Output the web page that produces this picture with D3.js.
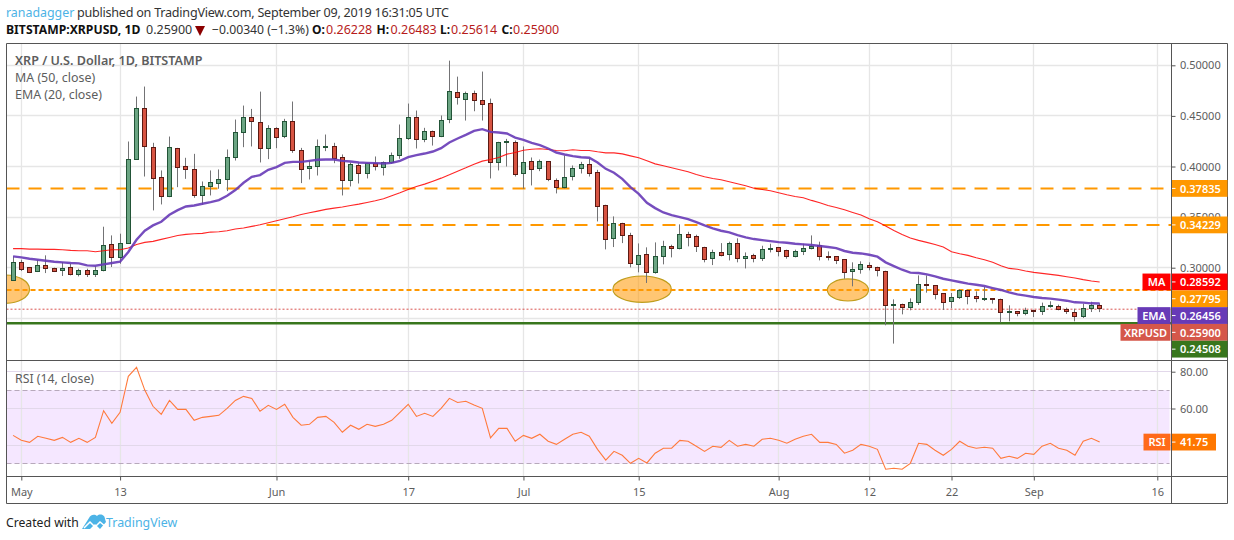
<!DOCTYPE html>
<html>
<head>
<meta charset="utf-8">
<title>XRPUSD</title>
<script src="https://cdn.jsdelivr.net/npm/d3@7"></script>
<style>
  html, body { margin: 0; padding: 0; background: #fff; }
  svg { display: block; font-family: "Noto Sans", sans-serif; }
</style>
</head>
<body>
<div id="chart"></div>
<script>
const firstDay = new Date(Date.UTC(2019, 3, 30));

const opens = [
  .2872,.3049,.3000,.2961,.3020,.2990,.2970,.3000,.2931,.2970,.2931,.2970,
  .3227,.3099,.3237,.4066,.4569,.4184,.3888,.3697,.4175,.3997,.3967,.3707,
  .3799,.3829,.3869,.4086,.4332,.4481,.4431,.4175,.4372,.4293,.4441,.4155,
  .3977,.3997,.4194,.4194,.4086,.3859,.4007,.3928,.4026,.3987,.4036,.4105,
  .4273,.4481,.4263,.4342,.4293,.4461,.4727,.4658,.4717,.4648,.4619,.4036,
  .4234,.4234,.3928,.4046,.3977,.4046,.3859,.3790,.3898,.3977,.4017,.3938,
  .3612,.3286,.3434,.3316,.3030,.3128,.2951,.3109,.3207,.3188,.3326,.3306,
  .3197,.3089,.3148,.3128,.3237,.3089,.3118,.3089,.3178,.3197,.3168,.3109,
  .3158,.3188,.3217,.3109,.3109,.3079,.2961,.2980,.3020,.3000,.2961,.2622,
  .2635,.2602,.2655,.2832,.2822,.2743,.2661,.2701,.2773,.2714,.2687,.2694,
  .2684,.2556,.2566,.2543,.2576,.2566,.2612,.2615,.2585,.2556,.2513,.2592,
  .26228
];
const highs = [
  .3112,.3079,.3007,.3079,.3122,.3000,.3056,.3039,.2990,.2990,.3013,.3405,
  .3319,.3336,.4247,.4691,.4790,.4234,.3961,.4296,.4184,.4086,.4125,.3852,
  .3961,.3971,.4168,.4464,.4602,.4569,.4740,.4408,.4388,.4471,.4642,.4184,
  .4059,.4267,.4316,.4234,.4119,.4040,.4036,.4036,.4099,.4050,.4138,.4415,
  .4622,.4553,.4382,.4355,.4504,.5046,.4888,.4740,.4750,.4938,.4671,.4244,
  .4273,.4257,.4198,.4089,.4069,.4050,.3882,.4109,.4010,.4046,.4076,.3967,
  .3622,.3507,.3444,.3345,.3240,.3201,.3250,.3266,.3227,.3428,.3355,.3326,
  .3207,.3178,.3243,.3257,.3290,.3151,.3138,.3217,.3237,.3204,.3178,.3178,
  .3237,.3319,.3257,.3161,.3112,.3082,.3053,.3063,.3053,.3010,.2970,.2687,
  .2645,.2697,.2924,.2924,.2822,.2750,.2750,.2786,.2783,.2766,.2809,.2694,
  .2694,.2628,.2572,.2605,.2585,.2655,.2668,.2635,.2605,.2595,.2645,.2664,
  .26483
];
const lows = [
  .2872,.2967,.2947,.2957,.2947,.2957,.2918,.2924,.2914,.2908,.2908,.2964,
  .3007,.3039,.3237,.4066,.3901,.3566,.3625,.3697,.3796,.3878,.3691,.3622,
  .3714,.3780,.3757,.4059,.4191,.4198,.4040,.4073,.4181,.4280,.4135,.3836,
  .3872,.3911,.4152,.4033,.3714,.3803,.3832,.3882,.3961,.3911,.4026,.4076,
  .4263,.4178,.4240,.4207,.4290,.4428,.4612,.4454,.4546,.4454,.3882,.3961,
  .4000,.3901,.3780,.3813,.3954,.3855,.3734,.3783,.3862,.3931,.3901,.3457,
  .3181,.3204,.3243,.3003,.2954,.2849,.2941,.3033,.3102,.3181,.3211,.3155,
  .3053,.3026,.3112,.3072,.3053,.2993,.3053,.3066,.3151,.3112,.3089,.3102,
  .3125,.3181,.3072,.3072,.3036,.2891,.2816,.2941,.2974,.2914,.2431,.2250,
  .2539,.2579,.2632,.2753,.2687,.2582,.2599,.2691,.2638,.2658,.2671,.2645,
  .2460,.2470,.2520,.2530,.2513,.2533,.2605,.2579,.2543,.2470,.2503,.2562,
  .25614
];
const closes = [
  .3049,.2977,.2951,.3020,.2990,.2961,.2990,.2931,.2970,.2931,.2970,.3217,
  .3099,.3237,.4066,.4569,.4191,.3878,.3697,.4184,.3987,.3967,.3707,.3799,
  .3839,.3869,.4086,.4332,.4481,.4441,.4175,.4372,.4283,.4441,.4155,.3967,
  .3997,.4194,.4197,.4076,.3859,.4017,.3928,.4026,.3997,.4036,.4105,.4273,
  .4481,.4263,.4342,.4293,.4451,.4737,.4678,.4717,.4648,.4609,.4036,.4234,
  .4244,.3915,.4036,.3967,.4046,.3869,.3790,.3888,.3977,.4017,.3928,.3602,
  .3276,.3434,.3316,.3039,.3118,.2951,.3109,.3207,.3188,.3326,.3296,.3207,
  .3079,.3148,.3118,.3237,.3089,.3109,.3089,.3178,.3188,.3158,.3109,.3158,
  .3188,.3207,.3109,.3099,.3069,.2951,.2980,.3030,.3000,.2970,.2622,.2635,
  .2602,.2655,.2832,.2819,.2734,.2655,.2704,.2773,.2714,.2694,.2694,.2687,
  .2556,.2566,.2543,.2576,.2562,.2612,.2625,.2582,.2566,.2516,.2595,.2625,
  .25900
];
const ma50 = [
  .3188,.3188,.3184,.3184,.3181,.3181,.3178,.3171,.3168,.3168,.3158,.3168,
  .3178,.3178,.3194,.3230,.3250,.3260,.3280,.3299,.3319,.3329,.3336,.3339,
  .3352,.3355,.3365,.3382,.3392,.3408,.3424,.3444,.3464,.3484,.3503,.3526,
  .3543,.3559,.3576,.3589,.3599,.3615,.3628,.3645,.3661,.3681,.3711,.3740,
  .3773,.3803,.3826,.3855,.3885,.3918,.3954,.3987,.4023,.4053,.4069,.4089,
  .4122,.4138,.4161,.4171,.4175,.4168,.4158,.4155,.4165,.4158,.4158,.4145,
  .4135,.4135,.4125,.4105,.4086,.4056,.4026,.4007,.3987,.3967,.3948,.3921,
  .3898,.3882,.3869,.3849,.3829,.3809,.3786,.3773,.3760,.3740,.3721,.3704,
  .3691,.3665,.3642,.3615,.3595,.3572,.3546,.3520,.3484,.3454,.3411,.3368,
  .3329,.3293,.3270,.3250,.3230,.3204,.3158,.3138,.3122,.3099,.3079,.3053,
  .3020,.2993,.2984,.2967,.2954,.2944,.2934,.2924,.2911,.2898,.2882,.2868,
  .28592
];
const ema20 = [
  .3112,.3102,.3089,.3079,.3069,.3059,.3053,.3046,.3043,.3023,.3020,.3033,
  .3046,.3059,.3155,.3276,.3365,.3418,.3454,.3523,.3569,.3605,.3615,.3632,
  .3648,.3668,.3711,.3767,.3839,.3898,.3915,.3967,.3994,.4036,.4046,.4046,
  .4056,.4066,.4069,.4069,.4056,.4050,.4040,.4036,.4033,.4030,.4036,.4056,
  .4092,.4112,.4128,.4148,.4181,.4237,.4277,.4313,.4352,.4369,.4342,.4336,
  .4326,.4286,.4263,.4234,.4211,.4178,.4138,.4119,.4102,.4092,.4086,.4040,
  .3977,.3938,.3878,.3796,.3730,.3642,.3589,.3546,.3520,.3500,.3480,.3451,
  .3418,.3388,.3365,.3349,.3322,.3299,.3283,.3273,.3263,.3253,.3247,.3237,
  .3230,.3224,.3214,.3204,.3194,.3165,.3148,.3141,.3128,.3109,.3053,.3016,
  .2980,.2951,.2947,.2934,.2914,.2891,.2875,.2859,.2842,.2832,.2819,.2799,
  .2780,.2757,.2737,.2724,.2711,.2701,.2694,.2684,.2674,.2658,.2655,.2648,
  .26456
];
const rsi14 = [
  45.4,42.7,41.6,44.9,43.8,42.7,44.3,41.6,43.8,41.6,44.3,58.8,
  51.9,57.9,77.5,82.4,70.0,61.2,56.8,64.4,59.5,59.5,53.6,55.2,
  55.7,56.3,60.1,64.4,66.6,65.5,58.5,61.7,59.5,62.3,55.2,50.9,
  51.4,55.2,55.7,52.5,47.1,50.9,48.7,51.4,50.3,51.4,53.6,57.9,
  62.3,55.7,57.4,55.7,60.1,65.5,63.3,63.9,61.9,60.1,44.0,49.2,
  49.2,42.2,45.4,43.8,46.0,42.2,40.5,43.3,46.0,47.1,44.9,37.8,
  31.9,36.7,34.6,30.2,32.9,30.4,35.7,38.4,38.4,42.7,42.2,39.5,
  36.7,39.5,38.9,42.7,39.5,40.5,39.5,43.3,43.8,42.7,41.1,43.3,
  44.9,46.0,41.6,41.6,40.5,35.7,37.3,40.5,39.5,37.8,27.0,27.5,
  27.0,30.2,41.1,40.5,37.3,34.6,37.8,42.2,39.5,38.4,38.9,38.4,
  32.9,34.0,32.9,35.7,35.1,39.5,41.1,38.4,37.3,34.6,42.2,43.8,
  41.75
];

const priceGrid = [0.25, 0.30, 0.35, 0.40, 0.45, 0.50];
const priceTicks = [0.30, 0.35, 0.40, 0.45, 0.50];
const rsiGrid = [40, 60, 80];
const rsiTicks = [60, 80];
const timeTicks = ["2019-05-01","2019-05-13","2019-06-01","2019-06-17","2019-07-01","2019-07-15","2019-08-01","2019-08-12","2019-08-22","2019-09-01","2019-09-16"];
const timeLabels = ["May","13","Jun","17","Jul","15","Aug","12","22","Sep","16"];

// horizontal levels drawn by the author
const resistanceTop = 0.37835;
const resistanceMid = 0.34229;
const resistanceMidFrom = "2019-06-01";
const supportMid = 0.27795;
const supportLow = 0.24508;
const lastPrice = 0.25900;
const lastRsi = 41.75;

// highlighted retests: middle date+hour, middle price, half width in days, half height in price
const spotDays = ["2019-04-29 00","2019-07-15 10","2019-08-09 10"];
const spotPrices = [0.2788, 0.2788, 0.2780];
const spotDayRadius = [3, 3.55, 2.5];
const spotPriceRadius = [0.014, 0.013, 0.0109];

const WIDTH = 1234, HEIGHT = 540;
const LEFT = 6.5, RIGHT = 1171.5, OUTER = 1227.5;
const TOP = 43.5, PANE_SPLIT = 360.5, RSI_BOTTOM = 476.5, BOTTOM = 503.5;
const UP = "#6ba583", DOWN = "#d75442", UP_EDGE = "#225437", DOWN_EDGE = "#5b1a13", WICK = "#737375";
const AXIS = "#555555", GRID = "#e6e6e6", ORANGE = "#ff9800", TEXT = "#5d5d5d";
const FONT = 11;

const dayMs = 86400000;
const dates = closes.map((d, i) => new Date(firstDay.getTime() + i * dayMs));
const parseDay = d3.utcParse("%Y-%m-%d");
const parseHour = d3.utcParse("%Y-%m-%d %H");

const x = d3.scaleUtc()
  .domain([parseDay("2019-05-01"), parseDay("2019-09-16")])
  .range([21.3, 1157.3]);
const y = d3.scaleLinear().domain([0.25, 0.50]).range([318.3, 65.3]);
const yRsi = d3.scaleLinear().domain([40, 80]).range([445.3, 371.7]);

const snap = v => Math.floor(v) + 0.5;

const svg = d3.select("#chart").append("svg")
  .attr("width", WIDTH).attr("height", HEIGHT)
  .attr("viewBox", [0, 0, WIDTH, HEIGHT]);

const defs = svg.append("defs");
defs.append("clipPath").attr("id", "main-clip").append("rect")
  .attr("x", LEFT).attr("y", TOP).attr("width", RIGHT - LEFT).attr("height", PANE_SPLIT - TOP);
defs.append("clipPath").attr("id", "rsi-clip").append("rect")
  .attr("x", LEFT).attr("y", PANE_SPLIT).attr("width", RIGHT - LEFT).attr("height", RSI_BOTTOM - PANE_SPLIT);

const main = svg.append("g").attr("clip-path", "url(#main-clip)");
const rsiPane = svg.append("g").attr("clip-path", "url(#rsi-clip)");

// grid
main.selectAll(".vgrid").data(timeTicks).enter().append("line")
  .attr("x1", d => snap(x(parseDay(d)))).attr("x2", d => snap(x(parseDay(d))))
  .attr("y1", TOP).attr("y2", PANE_SPLIT)
  .attr("stroke", GRID).attr("stroke-width", 1.3);
main.selectAll(".hgrid").data(priceGrid).enter().append("line")
  .attr("x1", LEFT).attr("x2", RIGHT)
  .attr("y1", d => snap(y(d))).attr("y2", d => snap(y(d)))
  .attr("stroke", GRID).attr("stroke-width", 1.3);

// retest ellipses
main.selectAll(".spot").data(spotDays).enter().append("ellipse")
  .attr("cx", d => x(parseHour(d)))
  .attr("cy", (d, i) => y(spotPrices[i]))
  .attr("rx", (d, i) => x(new Date(parseHour(d).getTime() + spotDayRadius[i] * dayMs)) - x(parseHour(d)))
  .attr("ry", (d, i) => y(spotPrices[i] - spotPriceRadius[i]) - y(spotPrices[i]))
  .attr("fill", "#ff9800").attr("fill-opacity", 0.55)
  .attr("stroke", "#b8960c").attr("stroke-opacity", 0.9).attr("stroke-width", 1.2);

// levels
function level(g, price, from, color, width, dash) {
  g.append("line")
    .attr("x1", from).attr("x2", RIGHT)
    .attr("y1", y(price)).attr("y2", y(price))
    .attr("stroke", color).attr("stroke-width", width)
    .attr("stroke-dasharray", dash);
}
level(main, resistanceTop, LEFT, ORANGE, 2, "13,9");
level(main, resistanceMid, x(parseDay(resistanceMidFrom)) - 10, ORANGE, 2, "13,9");
level(main, supportMid, LEFT, ORANGE, 2, "5,3");
level(main, lastPrice, LEFT, "#d9534f", 1, "2,2");
level(main, supportLow, LEFT, "#38761d", 2.4, null);

// candles
const candles = main.selectAll(".candle").data(dates).enter().append("g");
candles.append("line")
  .attr("x1", d => snap(x(d))).attr("x2", d => snap(x(d)))
  .attr("y1", (d, i) => y(highs[i])).attr("y2", (d, i) => y(lows[i]))
  .attr("stroke", WICK).attr("stroke-width", 1);
candles.append("rect")
  .attr("x", d => snap(x(d)) - 2)
  .attr("width", 4)
  .attr("y", (d, i) => snap(y(Math.max(opens[i], closes[i]))))
  .attr("height", (d, i) => Math.max(1, Math.round(y(Math.min(opens[i], closes[i])) - y(Math.max(opens[i], closes[i])))))
  .attr("fill", (d, i) => closes[i] >= opens[i] ? UP : DOWN)
  .attr("stroke", (d, i) => closes[i] >= opens[i] ? UP_EDGE : DOWN_EDGE)
  .attr("stroke-width", 1);

// moving averages
const priceLine = d3.line().x((d, i) => x(dates[i])).y(d => y(d));
main.append("path").attr("d", priceLine(ma50))
  .attr("fill", "none").attr("stroke", "#ff0000").attr("stroke-width", 1.1).attr("stroke-opacity", 0.85);
main.append("path").attr("d", priceLine(ema20))
  .attr("fill", "none").attr("stroke", "#673ab7").attr("stroke-width", 2.4).attr("stroke-opacity", 0.9);

// RSI pane
rsiPane.append("rect")
  .attr("x", LEFT).attr("width", RIGHT - LEFT - 2)
  .attr("y", yRsi(70)).attr("height", yRsi(30) - yRsi(70))
  .attr("fill", "#9915ff").attr("fill-opacity", 0.1);
rsiPane.selectAll(".vgrid").data(timeTicks).enter().append("line")
  .attr("x1", d => snap(x(parseDay(d)))).attr("x2", d => snap(x(parseDay(d))))
  .attr("y1", PANE_SPLIT).attr("y2", RSI_BOTTOM)
  .attr("stroke", GRID).attr("stroke-width", 1.3);
rsiPane.selectAll(".hgrid").data(rsiGrid).enter().append("line")
  .attr("x1", LEFT).attr("x2", RIGHT)
  .attr("y1", d => snap(yRsi(d))).attr("y2", d => snap(yRsi(d)))
  .attr("stroke", "#e2d8ea").attr("stroke-width", 1.2);
[30, 70].forEach(v => {
  rsiPane.append("line")
    .attr("x1", LEFT).attr("x2", RIGHT - 2)
    .attr("y1", snap(yRsi(v))).attr("y2", snap(yRsi(v)))
    .attr("stroke", "#b7a9bb").attr("stroke-width", 1).attr("stroke-dasharray", "5,3");
});
rsiPane.append("path")
  .attr("d", d3.line().x((d, i) => x(dates[i])).y(d => yRsi(d))(rsi14))
  .attr("fill", "none").attr("stroke", "#ff7a3c").attr("stroke-width", 1.1);

// axes
function styleAxis(g) {
  g.select(".domain").remove();
  g.selectAll("line").attr("stroke", AXIS);
  g.selectAll("text").attr("fill", TEXT).attr("font-size", FONT).attr("font-family", '"Noto Sans", sans-serif');
}
svg.append("g").attr("transform", `translate(${RIGHT},0)`)
  .call(d3.axisRight(y).tickValues(priceTicks).tickSize(4).tickPadding(4.5).tickFormat(d3.format(".5f")))
  .call(styleAxis);
svg.append("g").attr("transform", `translate(${RIGHT},0)`)
  .call(d3.axisRight(yRsi).tickValues(rsiTicks).tickSize(4).tickPadding(4.5).tickFormat(d3.format(".2f")))
  .call(styleAxis);
svg.append("g").attr("transform", `translate(0,${RSI_BOTTOM})`)
  .call(d3.axisBottom(x).tickValues(timeTicks.map(parseDay)).tickSize(4).tickPadding(8).tickFormat((d, i) => timeLabels[i]))
  .call(styleAxis);

// frame
const frame = [
  [LEFT, TOP, OUTER, TOP], [LEFT, PANE_SPLIT, OUTER, PANE_SPLIT], [LEFT, RSI_BOTTOM, OUTER, RSI_BOTTOM],
  [LEFT, BOTTOM, OUTER, BOTTOM], [LEFT, TOP, LEFT, BOTTOM], [RIGHT, TOP, RIGHT, BOTTOM], [OUTER, TOP, OUTER, BOTTOM]
];
svg.selectAll(".frame").data(frame).enter().append("line")
  .attr("x1", d => d[0]).attr("y1", d => d[1]).attr("x2", d => d[2]).attr("y2", d => d[3])
  .attr("stroke", AXIS).attr("stroke-width", 1);

// price tags, pushed down when they would overlap
const TAG_H = 16.8;
const tags = [
  { value: resistanceTop, text: "0.37835", color: ORANGE },
  { value: resistanceMid, text: "0.34229", color: ORANGE },
  { value: ma50[ma50.length - 1], text: "0.28592", color: "#ff0000", name: "MA", nameW: 28 },
  { value: supportMid, text: "0.27795", color: ORANGE },
  { value: ema20[ema20.length - 1], text: "0.26456", color: "#673ab7", name: "EMA", nameW: 33 },
  { value: lastPrice, text: "0.25900", color: "#d5574a", name: "XRPUSD", nameW: 50 },
  { value: supportLow, text: "0.24508", color: "#38761d" }
];
let lastY = -Infinity;
tags.forEach(t => {
  t.cy = Math.max(y(t.value), lastY + TAG_H);
  lastY = t.cy;
  drawTag(t.cy, t.text, t.color, t.name, t.nameW, OUTER);
});
drawTag(yRsi(lastRsi), "41.75", "#ff7700", "RSI", 27, 1216, "#ff6a1a");

function drawTag(cy, text, color, name, nameW, right, nameColor) {
  const g = svg.append("g");
  g.append("rect").attr("x", RIGHT + 0.5).attr("y", cy - TAG_H / 2).attr("width", right - RIGHT - 0.5).attr("height", TAG_H).attr("fill", color);
  g.append("line").attr("x1", RIGHT + 0.5).attr("x2", RIGHT + 4).attr("y1", cy).attr("y2", cy).attr("stroke", "#fff");
  g.append("text").attr("x", RIGHT + 8.5).attr("y", cy + 4.2)
    .attr("font-size", FONT).attr("font-weight", 600).attr("fill", "#fff").text(text);
  if (name) {
    g.append("rect").attr("x", RIGHT - 1 - nameW).attr("y", cy - TAG_H / 2).attr("width", nameW).attr("height", TAG_H).attr("fill", nameColor || color);
    g.append("text").attr("x", RIGHT - 1 - nameW / 2).attr("y", cy + 4.2).attr("text-anchor", "middle")
      .attr("font-size", FONT).attr("font-weight", 600).attr("fill", "#fff").text(name);
  }
}

// legends
function label(px, py, text, size, fill, weight) {
  return svg.append("text").attr("x", px).attr("y", py).attr("font-size", size)
    .attr("fill", fill).attr("font-weight", weight || 400).text(text);
}
label(15, 65, "XRP / U.S. Dollar, 1D, BITSTAMP", 12.6, "#5d5d5d", 600);
label(15, 82, "MA (50, close)", 12.4, "#5d5d5d");
label(15, 99, "EMA (20, close)", 12.4, "#5d5d5d");
label(15, 383, "RSI (14, close)", 12.3, "#5d5d5d");

// header
label(6, 17, "ranadagger", 12.4, "#4cb3e6");
label(77, 17, "published on TradingView.com, September 09, 2019 16:31:05 UTC", 12.6, "#333").attr("textLength", 372);
label(6, 34, "BITSTAMP:XRPUSD, 1D", 12.2, "#111", 700);
label(146, 34, "0.25900", 12.5, "#333");
svg.append("path").attr("d", "M195,26 L205,26 L200,36 Z").attr("fill", "#8b0000");
label(212, 34, "\u22120.00340 (\u22121.3%)", 12.2, "#333");
const ohlcKeys = ["O:", "H:", "L:", "C:"];
const ohlcVals = ["0.26228", "0.26483", "0.25614", "0.25900"];
const ohlcKeyX = [312, 376.5, 440, 501.5];
const ohlcValX = [326, 390.5, 451, 513];
ohlcKeys.forEach((k, i) => {
  label(ohlcKeyX[i], 34, k, 12, "#111", 700);
  label(ohlcValX[i], 34, ohlcVals[i], 12.5, "#b71c1c");
});

// footer
label(6, 527, "Created with", 12.2, "#222");
svg.append("path")
  .attr("d", "M82,529 L89,518 C91,514 95,514 97,516 C100,513 105,515 105,519 L106,522 L100,529 L95,524 L90,529 Z")
  .attr("fill", "#4cb3e6");
svg.append("path").attr("d", "M84,528 L90,522 L95,527 L100,522 L106,527").attr("fill", "none").attr("stroke", "#fff").attr("stroke-width", 1.5);
label(106, 527, "TradingView", 12.4, "#4cb3e6");
</script>
</body>
</html>
